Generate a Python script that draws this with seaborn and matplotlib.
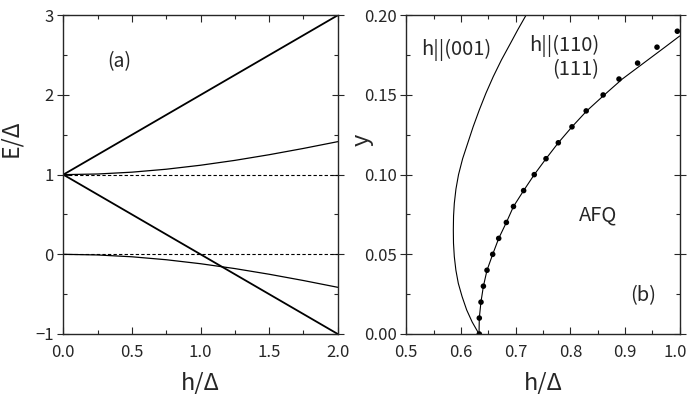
import numpy as np
import pandas as pd
import matplotlib
matplotlib.use("Agg")
import matplotlib.pyplot as plt
import matplotlib.transforms as mtransforms
import seaborn as sns
from matplotlib.ticker import MultipleLocator

sns.set_style("ticks")
plt.rcParams['font.family'] = ['Noto Sans CJK JP', 'DejaVu Sans']

# ---------------- data: panel (a) ----------------
h_a = [0.0, 0.25, 0.5, 0.75, 1.0, 1.25, 1.5, 1.75, 2.0]
E_up_line = [1.0, 1.25, 1.5, 1.75, 2.0, 2.25, 2.5, 2.75, 3.0]
E_up_curve = [1.0, 1.008, 1.031, 1.068, 1.118, 1.179, 1.25, 1.329, 1.414]
E_down_line = [1.0, 0.75, 0.5, 0.25, 0.0, -0.25, -0.5, -0.75, -1.0]
E_low_curve = [0.0, -0.008, -0.031, -0.068, -0.118, -0.179, -0.25, -0.329, -0.414]
h_dash = [0.0, 2.0]
E_dash1 = [1.0, 1.0]
E_dash0 = [0.0, 0.0]

# ---------------- data: panel (b) ----------------
y_001 = [0.0, 0.0075, 0.0151, 0.0235, 0.0318, 0.040, 0.0485, 0.057, 0.0653, 0.074,
         0.082, 0.091, 0.100, 0.110, 0.1197, 0.130, 0.1406, 0.151, 0.1615, 0.172,
         0.1824, 0.191, 0.2]
h_001 = [0.633, 0.6205, 0.6104, 0.6020, 0.5951, 0.5907, 0.5878, 0.5863, 0.586, 0.5864,
         0.5878, 0.5908, 0.5955, 0.6030, 0.6123, 0.6222, 0.6335, 0.6455, 0.659, 0.674,
         0.6905, 0.7040, 0.7189]
y_110 = [0.0, 0.01, 0.02, 0.03, 0.04, 0.05, 0.06, 0.07, 0.08, 0.09, 0.10, 0.11, 0.12,
         0.13, 0.14, 0.15, 0.16, 0.17, 0.18, 0.187]
h_110 = [0.633, 0.6335, 0.6365, 0.641, 0.6476, 0.658, 0.669, 0.683, 0.696, 0.7146,
         0.734, 0.7555, 0.778, 0.803, 0.830, 0.862, 0.895, 0.934, 0.973, 1.0]
y_dots = [0.0, 0.01, 0.02, 0.03, 0.04, 0.05, 0.06, 0.07, 0.08, 0.09, 0.10, 0.11, 0.12,
          0.13, 0.14, 0.15, 0.16, 0.17, 0.18, 0.19]
h_dots = [0.6335, 0.6335, 0.6366, 0.641, 0.6476, 0.658, 0.669, 0.683, 0.696, 0.7146,
          0.734, 0.7555, 0.778, 0.803, 0.829, 0.86, 0.889, 0.923, 0.9585, 0.9957]

fig = plt.figure(figsize=(6.89, 3.94), dpi=100)
ax1 = fig.add_axes([0.0919, 0.1523, 0.3983, 0.8089])
ax2 = fig.add_axes([0.5897, 0.1523, 0.3968, 0.8089])

def line(ax, x, y, lw, ls='-'):
    sns.lineplot(x=x, y=y, ax=ax, color='black', lw=lw, sort=False,
                 estimator=None, linestyle=ls)

# panel (a)
line(ax1, h_a, E_up_line, 1.3)
line(ax1, h_a, E_down_line, 1.3)
line(ax1, h_a, E_up_curve, 0.9)
line(ax1, h_a, E_low_curve, 0.9)
line(ax1, h_dash, E_dash1, 0.8, (0, (3, 2)))
line(ax1, h_dash, E_dash0, 0.8, (0, (3, 2)))
ax1.xaxis.set_minor_locator(MultipleLocator(0.25))
ax1.yaxis.set_minor_locator(MultipleLocator(0.5))
xt = [0.0, 0.5, 1.0, 1.5, 2.0]
yt = [-1, 0, 1, 2, 3]
ax1.set_xticks(xt, [f"{v:.1f}" for v in xt])
ax1.set_yticks(yt, [f"{v:d}".replace('-', '\u2212') for v in yt])
ax1.set_xlim(0, 2)
ax1.set_ylim(-1, 3)
ax1.set_xlabel("h/Δ", fontsize=17, labelpad=8)
ax1.set_ylabel("E/Δ", fontsize=16.5)
ax1.yaxis.set_label_coords(-0.15, 0.615)
ax1.text(0.41, 2.42, "(a)", fontsize=14, ha='center', va='center')

# panel (b)
line(ax2, h_001, y_001, 0.8)
line(ax2, h_110, y_110, 0.8)
sns.scatterplot(x=h_dots, y=y_dots, ax=ax2, color='black', s=16, edgecolor='none')
ax2.xaxis.set_minor_locator(MultipleLocator(0.05))
ax2.yaxis.set_minor_locator(MultipleLocator(0.025))
xt2 = [0.5, 0.6, 0.7, 0.8, 0.9, 1.0]
yt2 = [0.0, 0.05, 0.10, 0.15, 0.20]
ax2.set_xticks(xt2, [f"{v:.1f}" for v in xt2])
ax2.set_yticks(yt2, [f"{v:.2f}" for v in yt2])
ax2.set_xlim(0.5, 1.0)
ax2.set_ylim(0, 0.2)
ax2.set_xlabel("h/Δ", fontsize=17, labelpad=8)
ax2.set_ylabel("y", fontsize=17)
ax2.yaxis.set_label_coords(-0.12, 0.61)
ax2.text(0.527, 0.178, "h||(001)", fontsize=14.5, ha='left', va='center')
ax2.text(0.853, 0.181, "h||(110)", fontsize=14.5, ha='right', va='center')
ax2.text(0.853, 0.166, "(111)", fontsize=14.5, ha='right', va='center')
ax2.text(0.851, 0.0747, "AFQ", fontsize=14.5, ha='center', va='center')
ax2.text(0.933, 0.0239, "(b)", fontsize=14.5, ha='center', va='center')

for ax in (ax1, ax2):
    for s in ax.spines.values():
        s.set_linewidth(1.0)
        s.set_visible(True)
    ax.tick_params(which='both', direction='in', top=True, right=True, width=0.8,
                   labelsize=12, pad=3)
    ax.tick_params(axis='x', which='both', pad=7)
    ax.tick_params(which='major', length=5)
    ax.tick_params(which='minor', length=3)
    ax.tick_params(axis='y', which='major', direction='inout', length=8, left=True)

# keep the last tick label of panel (b) inside the figure
last = ax2.get_xticklabels()[-1]
last.set_transform(last.get_transform() +
                   mtransforms.ScaledTranslation(-3 / 72, 0, fig.dpi_scale_trans))

fig.savefig("out.png", dpi=100)
